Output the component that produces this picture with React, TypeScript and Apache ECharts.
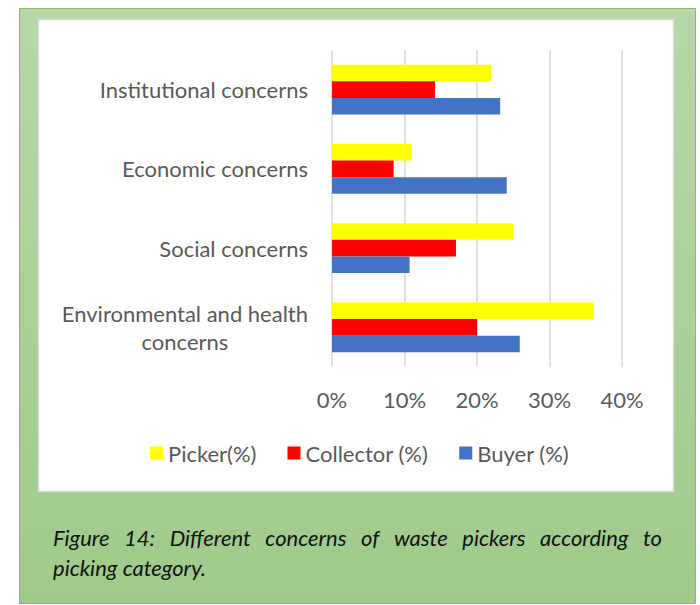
import React, { useEffect, useRef } from "react";
import * as echarts from "echarts";

const categories = [
  "Environmental and health concerns",
  "Social concerns",
  "Economic concerns",
  "Institutional concerns",
];
const categoryLabels = [
  "Environmental and health\nconcerns",
  "Social concerns",
  "Economic concerns",
  "Institutional concerns",
];
const seriesNames = ["Picker(%)", "Collector (%)", "Buyer (%)"];
const pickerValues = [36, 25, 11, 22];
const collectorValues = [20, 17.1, 8.5, 14.2];
const buyerValues = [25.9, 10.7, 24.1, 23.2];
const axisMin = 0;
const axisMax = 40;
const axisInterval = 10;
const captionLines = [
  "Figure 14: Different concerns of waste pickers according to",
  "picking category.",
];

const FONT = "Lato, 'Open Sans', sans-serif";
const FS = 22;
const CAPTION_FONT_SIZE = 22;

function captionElements(): any[] {
  const canvas = document.createElement("canvas");
  const ctx = canvas.getContext("2d")!;
  ctx.font = `italic ${CAPTION_FONT_SIZE}px Lato`;
  const left = 53;
  const right = 662;
  const els: any[] = [];
  const ys = [537, 567];
  captionLines.forEach((line, li) => {
    const words = line.split(" ");
    if (li === 0 && words.length > 1) {
      const widths = words.map((w) => ctx.measureText(w).width);
      const total = widths.reduce((a, b) => a + b, 0);
      const gap = (right - left - total) / (words.length - 1);
      let x = left;
      words.forEach((w, i) => {
        els.push({
          type: "text",
          x,
          y: ys[li],
          silent: true,
          style: {
            text: w,
            font: `italic ${CAPTION_FONT_SIZE}px ${FONT}`,
            fill: "#111111",
            textVerticalAlign: "middle",
            textAlign: "left",
          },
        });
        x += widths[i] + gap;
      });
    } else {
      els.push({
        type: "text",
        x: left,
        y: ys[li],
        silent: true,
        style: {
          text: line,
          font: `italic ${CAPTION_FONT_SIZE}px ${FONT}`,
          fill: "#111111",
          textVerticalAlign: "middle",
          textAlign: "left",
        },
      });
    }
  });
  return els;
}

export default function App() {
  const ref = useRef<HTMLDivElement>(null);
  useEffect(() => {
    const chart = echarts.init(ref.current!, null, { renderer: "svg" });
    const labelColor = "#595959";
    const option: any = {
      animation: false,
      backgroundColor: "#ffffff",
      graphic: [
        {
          type: "rect",
          z: -10,
          silent: true,
          shape: { x: 19.5, y: 8.5, width: 676, height: 595 },
          style: {
            fill: new echarts.graphic.LinearGradient(0, 0, 0, 1, [
              { offset: 0, color: "#B8D7A9" },
              { offset: 1, color: "#9FCA89" },
            ]),
            stroke: "#86B96A",
            lineWidth: 1,
          },
        },
        {
          type: "rect",
          z: -9,
          silent: true,
          shape: { x: 38.5, y: 19.5, width: 635, height: 472 },
          style: {
            fill: "#ffffff",
            stroke: "#D9D9D9",
            lineWidth: 1.5,
          },
        },
        ...captionElements(),
      ],
      legend: {
        data: seriesNames,
        left: 145,
        top: 437,
        icon: "rect",
        itemWidth: 13,
        itemHeight: 13,
        itemGap: 31,
        textStyle: { fontSize: FS, color: labelColor, fontFamily: FONT },
      },
      grid: {
        left: 332,
        right: 78,
        top: 50,
        bottom: 238,
        containLabel: false,
      },
      xAxis: {
        type: "value",
        min: axisMin,
        max: axisMax,
        interval: axisInterval,
        axisLine: { show: false },
        axisTick: { show: false },
        splitLine: { show: true, lineStyle: { color: "#D9D9D9", width: 1.5 } },
        axisLabel: {
          formatter: "{value}%",
          fontSize: FS,
          color: labelColor,
          fontFamily: FONT,
          margin: 21,
        },
      },
      yAxis: {
        type: "category",
        data: categories,
        axisLine: { show: false },
        axisTick: { show: false },
        splitLine: { show: false },
        axisLabel: {
          margin: 24,
          fontSize: FS,
          color: labelColor,
          fontFamily: FONT,
          lineHeight: 28,
          formatter: (value: string) => {
            const idx = categories.indexOf(value);
            const lbl = categoryLabels[idx] ?? value;
            if (lbl.includes("\n")) {
              return lbl
                .split("\n")
                .map((l) => `{c|${l}}`)
                .join("\n");
            }
            return lbl;
          },
          rich: {
            c: {
              align: "center",
              fontSize: FS,
              lineHeight: 28,
              color: labelColor,
              fontFamily: FONT,
            },
          },
        },
      },
      series: [
        {
          name: seriesNames[0],
          type: "bar",
          data: pickerValues,
          itemStyle: { color: "#FFFF00" },
          barGap: "0%",
          barCategoryGap: "37%",
        },
        {
          name: seriesNames[1],
          type: "bar",
          data: collectorValues,
          itemStyle: { color: "#FF0000" },
          barGap: "0%",
          barCategoryGap: "37%",
        },
        {
          name: seriesNames[2],
          type: "bar",
          data: buyerValues,
          itemStyle: { color: "#4472C4" },
          barGap: "0%",
          barCategoryGap: "37%",
        },
      ],
    };
    chart.setOption(option);
    return () => chart.dispose();
  }, []);
  return (
    <div
      ref={ref}
      style={{ position: "absolute", left: 0, top: 0, width: 700, height: 605 }}
    />
  );
}
